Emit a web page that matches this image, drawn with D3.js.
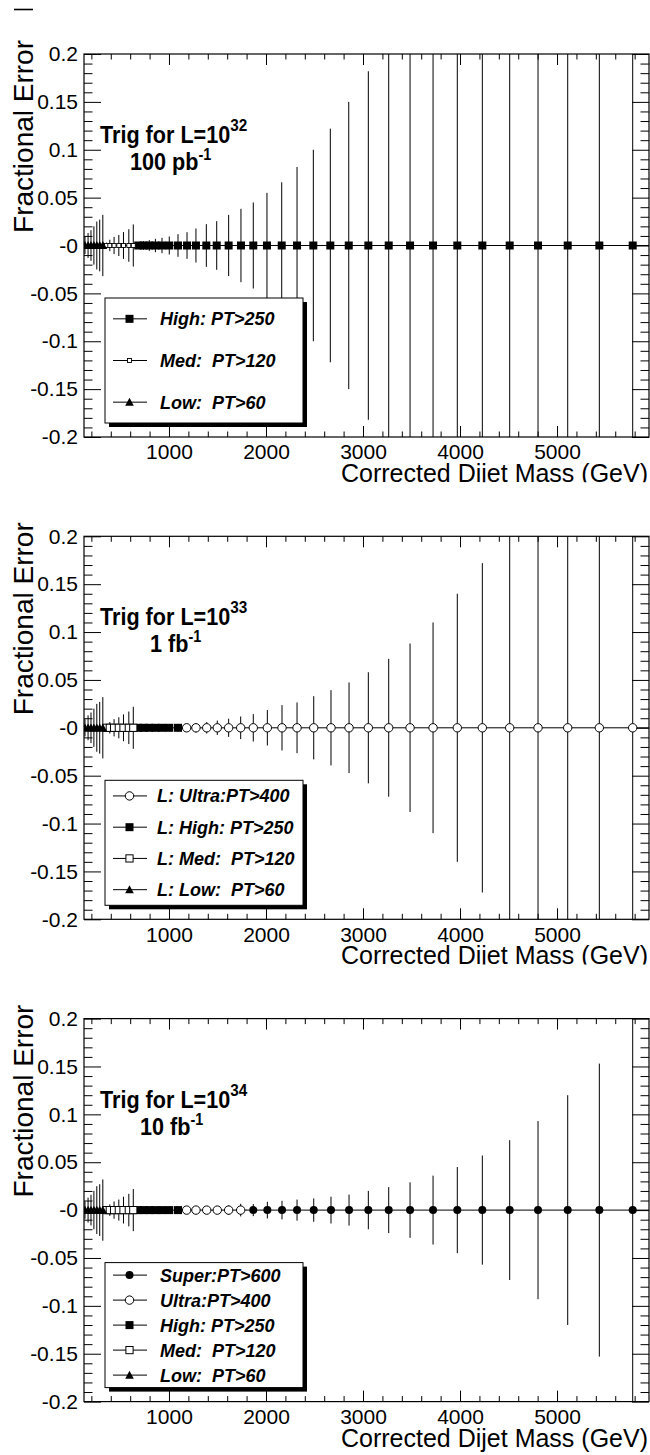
<!DOCTYPE html>
<html><head><meta charset="utf-8">
<script src="https://cdn.jsdelivr.net/npm/d3@7"></script>
<style>body{margin:0;background:#fff}svg{display:block}</style>
</head><body>
<script>
// ---------------- data ----------------
const massLow   = [134,166,196,226,256,286,318];
const massMed   = [356,390,434,483,531,586,632];
const massHigh  = [683,738,797,860,928,1003,1093,1186,1278,1385,1492,1615,1742,1869,2010,2162,2320,2488,2663,2853,3055,3265,3485,3722,3972,4230,4512,4804,5110,5436,5780];
const massHighShort = [683,738,797,860,928,1003,1093];
const massUltra = [1182,1278,1389,1498,1615,1739,1869,2014,2165,2320,2492,2670,2856,3055,3265,3485,3722,3972,4230,4512,4804,5110,5436,5780];
const massUltraShort = [1182,1278,1389,1498,1615,1739];
const massSuper = [1869,2014,2165,2320,2492,2670,2856,3055,3265,3485,3722,3972,4230,4512,4804,5110,5436,5780];

const errLow    = [0.009,0.013,0.016,0.020,0.025,0.027,0.032];
const errMed    = [0.003,0.006,0.009,0.011,0.014,0.017,0.022];
const errHigh32 = [0.0035,0.0045,0.0056,0.007,0.008,0.0094,0.0118,0.0139,0.0178,0.0223,0.0254,0.032,0.0383,0.0449,0.055,0.066,0.082,0.100,0.122,0.150,0.182,0.22,0.26,0.31,0.37,0.44,0.52,0.62,0.74,0.88,1.05];
const errHigh33 = [0.0015,0.0018,0.002,0.0025,0.003,0.0035,0.004];
const errUltra33 = [0.003,0.005,0.006,0.0075,0.0095,0.0118,0.0143,0.0185,0.0237,0.0265,0.033,0.0393,0.0473,0.058,0.072,0.088,0.110,0.140,0.172,0.21,0.26,0.32,0.40,0.50];
const errHigh34 = [0.0015,0.0018,0.002,0.0025,0.003,0.0035,0.004];
const errUltra34 = [0.002,0.003,0.0035,0.004,0.005,0.0066];
const errSuper34 = [0.0063,0.0087,0.0097,0.011,0.0122,0.014,0.0162,0.020,0.024,0.029,0.036,0.045,0.057,0.073,0.093,0.120,0.153,0.45];

const xMajorTicks = [1000,2000,3000,4000,5000];
const yTickValues = [0.2,0.15,0.1,0.05,0,-0.05,-0.1,-0.15,-0.2];
const yTickLabels = ["0.2","0.15","0.1","0.05","-0","-0.05","-0.1","-0.15","-0.2"];
const xTitle = "Corrected Dijet Mass (GeV)";
const yTitle = "Fractional Error";
const lumiExp = ["32","33","34"];
const lumiText = [["100 pb","-1"],["1 fb","-1"],["10 fb","-1"]];

// ---------------- layout ----------------
const W = 650, H = 1455;
const padH = 482.3;
const frameL = 84, frameR = 649, frameT = 54, frameB = 437;
const FONT = "'Liberation Sans', Arial, Helvetica, sans-serif";

const panels = [
  { series: [
      {name:"High: PT>250", m: massHigh, e: errHigh32, mk:"sqF"},
      {name:"Med:  PT>120", m: massMed, e: errMed, mk:"sqOs"},
      {name:"Low:  PT>60", m: massLow, e: errLow, mk:"tri"} ],
    textX: 160, line2X: 130 },
  { series: [
      {name:"L: Ultra:PT>400", m: massUltra, e: errUltra33, mk:"cirO"},
      {name:"L: High: PT>250", m: massHighShort, e: errHigh33, mk:"sqF"},
      {name:"L: Med:  PT>120", m: massMed, e: errMed, mk:"sqO"},
      {name:"L: Low:  PT>60", m: massLow, e: errLow, mk:"tri"} ],
    textX: 157, line2X: 150 },
  { series: [
      {name:"Super:PT>600", m: massSuper, e: errSuper34, mk:"cirF"},
      {name:"Ultra:PT>400", m: massUltraShort, e: errUltra34, mk:"cirO"},
      {name:"High: PT>250", m: massHighShort, e: errHigh34, mk:"sqF"},
      {name:"Med:  PT>120", m: massMed, e: errMed, mk:"sqO"},
      {name:"Low:  PT>60", m: massLow, e: errLow, mk:"tri"} ],
    textX: 160, line2X: 140 }
];

const svg = d3.select("body").append("svg").attr("width", W).attr("height", H)
  .style("font-family", FONT);
svg.append("rect").attr("width", W).attr("height", H).attr("fill", "#fff");

// small dash at top left
svg.append("line").attr("x1", 14).attr("x2", 33).attr("y1", 9.5).attr("y2", 9.5)
  .attr("stroke", "#000").attr("stroke-width", 1.6);

const x = d3.scaleLinear().domain([124, 5948]).range([frameL, frameR]);
const y = d3.scaleLinear().domain([-0.2, 0.2]).range([frameB, frameT]);

function drawMarker(g, type, cx, cy) {
  if (type === "sqF") {
    g.append("rect").attr("x", cx-4).attr("y", cy-4).attr("width", 8).attr("height", 8).attr("fill", "#000");
  } else if (type === "sqOs") {
    g.append("rect").attr("x", cx-2).attr("y", cy-2).attr("width", 4).attr("height", 4)
      .attr("fill", "#fff").attr("stroke", "#000").attr("stroke-width", 0.9);
  } else if (type === "sqO") {
    g.append("rect").attr("x", cx-3.6).attr("y", cy-3.6).attr("width", 7.2).attr("height", 7.2)
      .attr("fill", "#fff").attr("stroke", "#000").attr("stroke-width", 1);
  } else if (type === "tri") {
    g.append("path").attr("d", `M${cx-4.3},${cy+3.6}L${cx+4.3},${cy+3.6}L${cx},${cy-4.4}Z`).attr("fill", "#000");
  } else if (type === "cirO") {
    g.append("circle").attr("cx", cx).attr("cy", cy).attr("r", 4.2)
      .attr("fill", "#fff").attr("stroke", "#000").attr("stroke-width", 1);
  } else if (type === "cirF") {
    g.append("circle").attr("cx", cx).attr("cy", cy).attr("r", 4).attr("fill", "#000");
  }
}

panels.forEach((p, pi) => {
  const g = svg.append("g").attr("transform", `translate(0,${pi*padH})`);
  const clipId = "clip" + pi;
  g.append("clipPath").attr("id", clipId).append("rect")
    .attr("x", frameL).attr("y", frameT).attr("width", frameR-frameL).attr("height", frameB-frameT);
  const padClip = "pclip" + pi;
  g.append("clipPath").attr("id", padClip).append("rect")
    .attr("x", 0).attr("y", 0).attr("width", W).attr("height", pi < 2 ? padH : 490);

  // axes (ticks inside)
  const minor = d3.range(200, 5948, 200).filter(v => v % 1000 !== 0 && v > 124);
  const yMinor = d3.range(-20, 21, 1).map(v => v/100).filter(v => Math.round(v*100) % 5 !== 0);

  const axB = g.append("g").attr("transform", `translate(0,${frameB})`)
    .call(d3.axisBottom(x).tickValues(xMajorTicks).tickSizeInner(-11).tickSizeOuter(0).tickPadding(7.5).tickFormat(d3.format("d")));
  g.append("g").attr("transform", `translate(0,${frameB})`)
    .call(d3.axisBottom(x).tickValues(minor).tickSizeInner(-5.5).tickSizeOuter(0).tickFormat(""));
  g.append("g").attr("transform", `translate(0,${frameT})`)
    .call(d3.axisTop(x).tickValues(xMajorTicks).tickSizeInner(-11).tickSizeOuter(0).tickFormat(""));
  g.append("g").attr("transform", `translate(0,${frameT})`)
    .call(d3.axisTop(x).tickValues(minor).tickSizeInner(-5.5).tickSizeOuter(0).tickFormat(""));
  const axL = g.append("g").attr("transform", `translate(${frameL},0)`)
    .call(d3.axisLeft(y).tickValues(yTickValues).tickSizeInner(-17).tickSizeOuter(0).tickPadding(6)
      .tickFormat((d,i) => yTickLabels[i]));
  g.append("g").attr("transform", `translate(${frameL},0)`)
    .call(d3.axisLeft(y).tickValues(yMinor).tickSizeInner(-8.5).tickSizeOuter(0).tickFormat(""));
  g.append("g").attr("transform", `translate(${frameR},0)`)
    .call(d3.axisRight(y).tickValues(yTickValues).tickSizeInner(-17).tickSizeOuter(0).tickFormat(""));
  g.append("g").attr("transform", `translate(${frameR},0)`)
    .call(d3.axisRight(y).tickValues(yMinor).tickSizeInner(-8.5).tickSizeOuter(0).tickFormat(""));
  g.selectAll(".domain").remove();
  g.selectAll(".tick line").attr("stroke", "#000").attr("stroke-width", 1);
  axB.selectAll("text").attr("font-size", 21).attr("fill", "#000").style("font-family", FONT);
  axL.selectAll("text").attr("font-size", 21).attr("fill", "#000").style("font-family", FONT);

  // data
  const dg = g.append("g").attr("clip-path", `url(#${clipId})`);
  p.series.forEach(s => {
    const n = s.m.length;
    const lo = s.m[0] - (n > 1 ? (s.m[1]-s.m[0])/2 : 20);
    const hi = s.m[n-1] + (n > 1 ? (s.m[n-1]-s.m[n-2])/2 : 20);
    dg.append("line").attr("x1", x(lo)).attr("x2", x(hi)).attr("y1", y(0)).attr("y2", y(0))
      .attr("stroke", "#000").attr("stroke-width", 1);
    s.m.forEach((m, i) => {
      dg.append("line").attr("x1", x(m)).attr("x2", x(m))
        .attr("y1", y(s.e[i])).attr("y2", y(-s.e[i]))
        .attr("stroke", "#000").attr("stroke-width", 1);
    });
  });
  p.series.forEach(s => {
    s.m.forEach(m => drawMarker(dg, s.mk, x(m), y(0)));
  });

  // frame
  g.append("rect").attr("x", frameL).attr("y", frameT).attr("width", frameR-frameL).attr("height", frameB-frameT)
    .attr("fill", "none").attr("stroke", "#000").attr("stroke-width", 1.2);

  // titles
  const tg = g.append("g").attr("clip-path", `url(#${padClip})`);
  tg.append("text").attr("x", 648).attr("y", frameB + 45).attr("text-anchor", "end")
    .attr("font-size", 25).text(xTitle);
  g.append("text").attr("transform", `translate(33,40) rotate(-90)`).attr("text-anchor", "end")
    .attr("font-size", 28).text(yTitle);

  // labels (condensed bold)
  const t1 = g.append("text").attr("transform", `translate(100,143) scale(0.9,1)`)
    .attr("font-size", 24).attr("font-weight", "bold");
  t1.append("tspan").text("Trig for L=10");
  t1.append("tspan").attr("dy", -12).attr("font-size", 17).text(lumiExp[pi]);
  const t2 = g.append("text").attr("transform", `translate(${p.line2X},170) scale(0.9,1)`)
    .attr("font-size", 24).attr("font-weight", "bold");
  t2.append("tspan").text(lumiText[pi][0]);
  t2.append("tspan").attr("dy", -10).attr("font-size", 16).text(lumiText[pi][1]);

  // legend
  const lx0 = 105, ly0 = 298, lw = 198, lh = 125;
  g.append("rect").attr("x", lx0+4).attr("y", ly0+4).attr("width", lw).attr("height", lh).attr("fill", "#000");
  g.append("rect").attr("x", lx0).attr("y", ly0).attr("width", lw).attr("height", lh)
    .attr("fill", "#fff").attr("stroke", "#000").attr("stroke-width", 1);
  const nE = p.series.length;
  p.series.forEach((s, k) => {
    const cy = ly0 + lh/nE*(k+0.5);
    g.append("line").attr("x1", 113).attr("x2", 147).attr("y1", cy).attr("y2", cy).attr("stroke", "#000").attr("stroke-width", 1);
    drawMarker(g, s.mk, 129.5, cy);
    g.append("text").attr("x", p.textX).attr("y", cy).attr("dy", "0.36em")
      .attr("font-size", 18).attr("font-weight", "bold").attr("font-style", "italic")
      .attr("xml:space", "preserve").style("white-space", "pre").text(s.name);
  });
});
</script>
</body></html>
